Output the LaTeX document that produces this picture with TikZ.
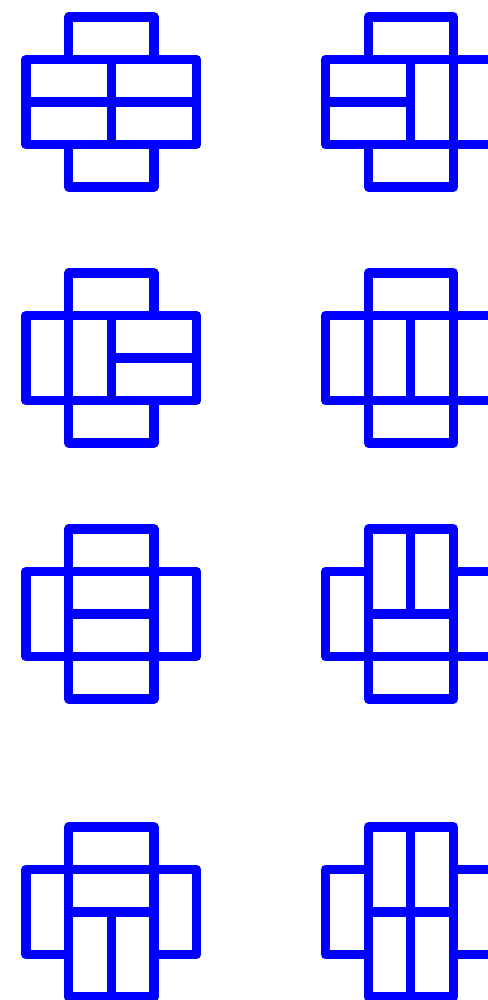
\documentclass[tikz,border=0pt]{standalone}
\begin{document}
\begin{tikzpicture}[x=1pt,y=1pt,
  dom/.style={draw=blue,line width=9.3pt,line join=round}]
\useasboundingbox (0,0) rectangle (487,-1000);
% each figure: origin (ox,oy) in pixels; list of dominoes as c1/r1/c2/r2 (cell corners)
\newcommand\tiling[3]{%
  \begin{scope}[shift={(#1,-#2)},x=42.65pt,y=-42.5pt]
    \foreach \a/\b/\c/\d in {#3} {\draw[dom] (\a,\b) rectangle (\c,\d);}
  \end{scope}}
% row 1
\tiling{26}{17}{1/0/3/1, 0/1/2/2, 2/1/4/2, 0/2/2/3, 2/2/4/3, 1/3/3/4}
\tiling{325.5}{17}{1/0/3/1, 0/1/2/2, 0/2/2/3, 2/1/3/3, 3/1/4/3, 1/3/3/4}
% row 2
\tiling{26}{273}{1/0/3/1, 0/1/1/3, 1/1/2/3, 2/1/4/2, 2/2/4/3, 1/3/3/4}
\tiling{325.5}{273}{1/0/3/1, 0/1/1/3, 1/1/2/3, 2/1/3/3, 3/1/4/3, 1/3/3/4}
% row 3
\tiling{26}{529}{1/0/3/1, 0/1/1/3, 1/1/3/2, 1/2/3/3, 3/1/4/3, 1/3/3/4}
\tiling{325.5}{529}{0/1/1/3, 1/0/2/2, 2/0/3/2, 1/2/3/3, 3/1/4/3, 1/3/3/4}
% row 4
\tiling{26}{827}{1/0/3/1, 0/1/1/3, 1/1/3/2, 1/2/2/4, 2/2/3/4, 3/1/4/3}
\tiling{325.5}{827}{0/1/1/3, 1/0/2/2, 2/0/3/2, 1/2/2/4, 2/2/3/4, 3/1/4/3}
\end{tikzpicture}
\end{document}
